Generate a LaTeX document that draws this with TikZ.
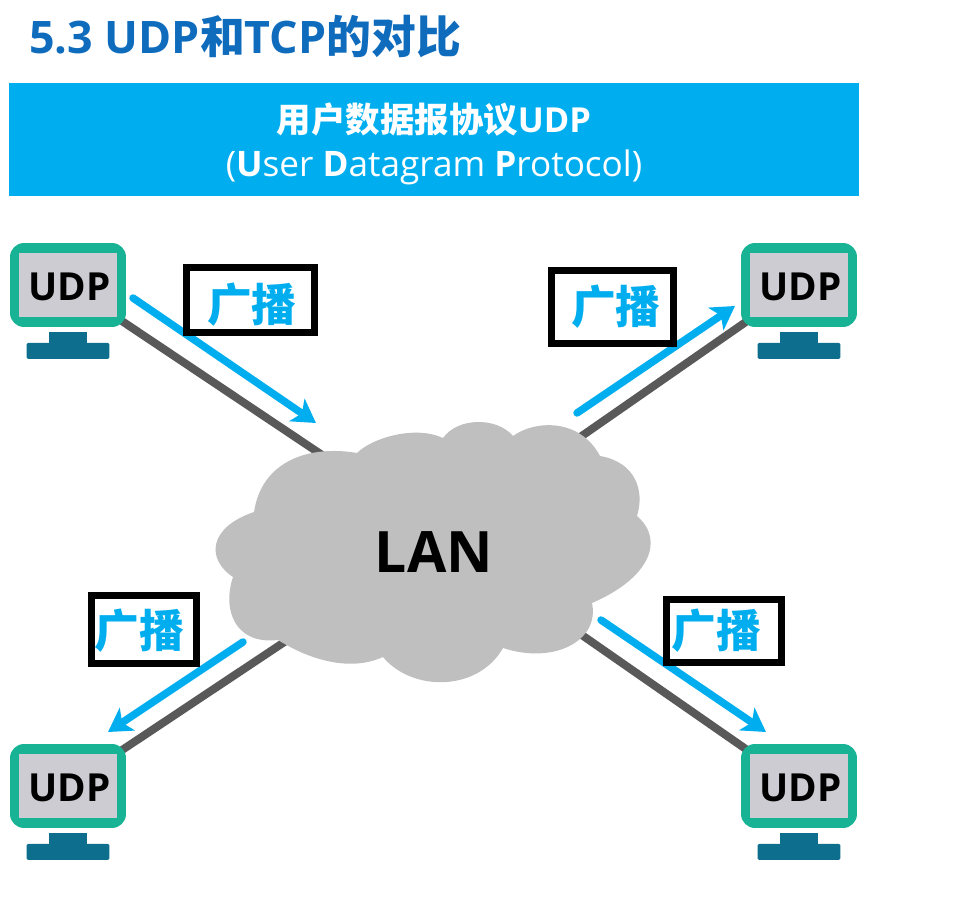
\documentclass[tikz,border=0pt]{standalone}
\usepackage{fontspec}
\setmainfont{Open Sans}
\newfontfamily\cjk{Noto Sans CJK SC}
\usepackage{tikz}
\usetikzlibrary{positioning}
\usetikzlibrary{arrows.meta}
\usetikzlibrary{backgrounds}
\definecolor{titleblue}{HTML}{0F6CBD}
\definecolor{skyblue}{HTML}{00AEEF}
\definecolor{screenteal}{HTML}{17B394}
\definecolor{screengray}{HTML}{CCCCD2}
\definecolor{standblue}{HTML}{0E6E8E}
\definecolor{linkgray}{HTML}{595959}
\definecolor{cloudgray}{HTML}{BFBFBF}
\tikzset{
    monitor/.style={fill=screenteal, rounded corners=0.28cm, inner sep=0pt, outer sep=0pt,
        minimum width=2.32cm, minimum height=1.68cm, text height=18pt, text depth=0pt,
        font=\fontsize{22}{22}\selectfont\bfseries, execute at begin node={\hspace*{0.06cm}},
        path picture={\fill[screengray, sharp corners] ([xshift=-0.98cm, yshift=-0.64cm]path picture bounding box.center) rectangle ([xshift=0.98cm, yshift=0.64cm]path picture bounding box.center);}},
    neck/.style={fill=standblue, inner sep=0pt, outer sep=0pt, minimum width=0.76cm, minimum height=0.22cm},
    base/.style={fill=standblue, inner sep=0pt, outer sep=0pt, rounded corners=0.03cm, minimum width=1.66cm, minimum height=0.32cm},
    link/.style={draw=linkgray, line width=0.16cm, shorten <=-0.3cm},
    flow/.style={draw=skyblue, line width=0.15cm, line cap=round, -{Stealth[length=0.46cm, width=0.54cm, inset=0.12cm]}},
    castbox/.style={draw=black, fill=white, line width=0.14cm, inner sep=0pt, text=skyblue, text height=22pt, text depth=3pt,
        font=\fontsize{25.5}{25.5}\selectfont\cjk\bfseries}
}
\begin{document}
\begin{tikzpicture}[x=0.02cm, y=-0.02cm, node distance=0.1cm]
        \useasboundingbox (0,0) rectangle (965,905);
        % heading
        \node[anchor=west, inner sep=0pt, text=titleblue, font=\fontsize{25.5}{25.5}\selectfont\bfseries] (title) at (29,37) {5.3 UDP{\cjk 和}TCP{\cjk 的对比}};
        \node[fill=skyblue, inner sep=0pt, minimum width=17cm, minimum height=2.26cm, align=center, text=white, font=\fontsize{20}{25}\selectfont] (banner) at (434,139.5)
            {\rule{0pt}{22pt}{\fontsize{19.6}{25}\selectfont\cjk\bfseries 用户数据报协议}{\fontsize{19.6}{25}\selectfont\bfseries UDP}\\(\textbf{U}ser \textbf{D}atagram \textbf{P}rotocol)};
        % hosts
        \node[monitor] (udpA) at (68,285) {UDP};
        \node[neck, below=of udpA] (neckA) {};
        \node[base, below=0cm of neckA] (baseA) {};
        \node[monitor] (udpB) at (799,285) {UDP};
        \node[neck, below=of udpB] (neckB) {};
        \node[base, below=0cm of neckB] (baseB) {};
        \node[monitor] (udpC) at (68,786) {UDP};
        \node[neck, below=of udpC] (neckC) {};
        \node[base, below=0cm of neckC] (baseC) {};
        \node[monitor] (udpD) at (799,786) {UDP};
        \node[neck, below=of udpD] (neckD) {};
        \node[base, below=0cm of neckD] (baseD) {};
        % links end under the cloud
        \coordinate (hubA) at (340,467);
        \coordinate (hubB) at (530,472);
        \coordinate (hubC) at (340,605);
        \coordinate (hubD) at (530,599);
        \begin{scope}[on background layer]
            \draw[link] (udpA) -- (hubA);
            \draw[link] (udpB) -- (hubB);
            \draw[link] (udpC) -- (hubC);
            \draw[link] (udpD) -- (hubD);
        \end{scope}
        % cloud
        \fill[cloudgray] (357,453) .. controls (372,438) and (415,425) .. (443,438)
            .. controls (458,417) and (497,417) .. (513,436)
            .. controls (535,420) and (580,418) .. (600,456)
            .. controls (635,462) and (645,490) .. (637,516)
            .. controls (665,540) and (650,578) .. (592,603)
            .. controls (600,640) and (555,665) .. (503,648)
            .. controls (478,692) and (412,692) .. (383,657)
            .. controls (350,672) and (310,660) .. (278,640)
            .. controls (235,645) and (222,610) .. (233,577)
            .. controls (207,560) and (207,528) .. (254,512)
            .. controls (262,460) and (310,445) .. (357,453) -- cycle;
        \node[inner sep=0pt, font=\fontsize{32.5}{32.5}\selectfont\bfseries] (lan) at (434,552) {LAN};
        % broadcast arrows
        \coordinate (fromA) at (133,298);
        \coordinate (toA) at (316,423);
        \coordinate (fromB) at (577,413);
        \coordinate (toB) at (735,306);
        \coordinate (fromC) at (243,642);
        \coordinate (toC) at (108,732);
        \coordinate (fromD) at (601,620);
        \coordinate (toD) at (766,732);
        \draw[flow] (fromA) -- (toA);
        \draw[flow] (fromB) -- (toB);
        \draw[flow] (fromC) -- (toC);
        \draw[flow] (fromD) -- (toD);
        % labels
        \node[castbox, minimum width=2.56cm, minimum height=1.3cm, text height=28pt] (castA) at (250.5,300) {\hspace*{0.06cm}广播};
        \node[castbox, minimum width=2.44cm, minimum height=1.46cm] (castB) at (612.5,307) {\hspace*{0.14cm}广播};
        \node[castbox, minimum width=2.1cm, minimum height=1.36cm, text height=24pt] (castC) at (144,629.5) {\hspace*{-0.2cm}广播};
        \node[castbox, minimum width=2.3cm, minimum height=1.26cm] (castD) at (724,631) {\hspace*{-0.3cm}广播};
    \end{tikzpicture}
\end{document}
